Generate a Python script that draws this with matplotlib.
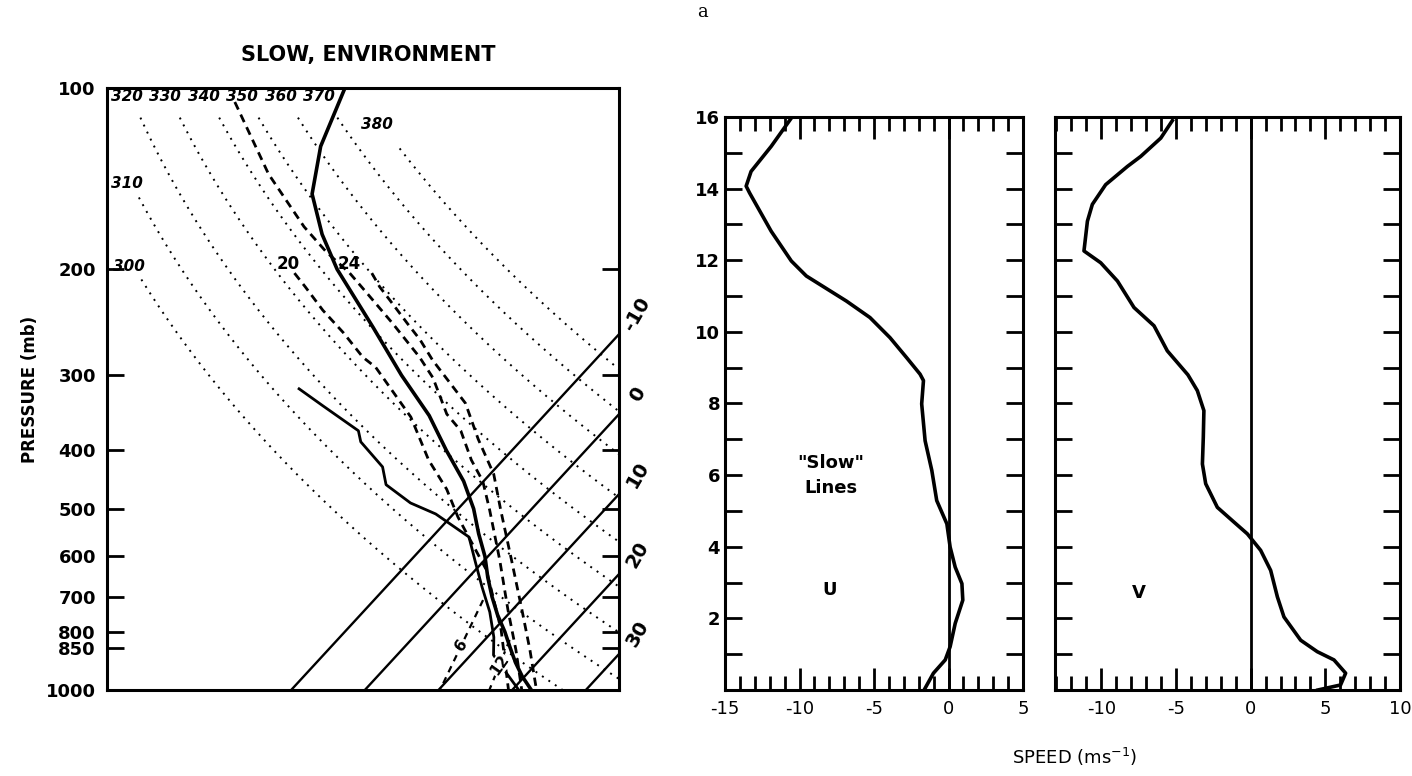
import numpy as np
import matplotlib
matplotlib.use("Agg")
from matplotlib import pyplot as plt

# ---- sounding (skew T - log p), temperatures in C, pressure in mb
env_p = [100, 125, 150, 175, 200, 250, 300, 350, 400, 450, 500, 550, 600, 650, 700, 750, 800, 850, 900, 950, 1000]
env_t = [-78.0, -74.0, -69.2, -62.8, -56.4, -44.2, -34.4, -25.6, -18.9, -12.7, -7.9, -4.1, -0.4, 2.6, 5.6, 8.6, 11.7, 14.4, 17.0, 19.7, 22.6]

dew_p = [316, 337, 371, 387, 426, 456, 489, 510, 557, 613, 674, 742, 817, 875, 923, 1000]
dew_t = [-46.6, -41.3, -33.3, -31.6, -25.5, -22.8, -17.2, -12.4, -5.0, -1.0, 3.0, 7.2, 10.9, 13.1, 16.2, 20.9]

# moist adiabats (dashed)
moistA_p = [105.5, 139, 170, 187, 203, 219, 246, 280, 303, 348, 371, 415, 450, 502, 609, 736, 858, 1000]
moistA_t = [-91.2, -77.6, -66.2, -60.1, -54.2, -49.4, -42.1, -34.2, -29.8, -23.4, -19.4, -14.3, -10.1, -5.6, 2.1, 9.4, 15.5, 21.3]
moist20_p = [203, 214, 234, 255, 280, 291, 352, 415, 464, 516, 632, 795, 1000]
moist20_t = [-61.7, -58.5, -53.2, -47.6, -41.9, -38.9, -27.9, -20.1, -14.0, -9.0, 1.5, 11.0, 19.5]
moist24_p = [203, 214, 225, 246, 262, 283, 334, 383, 438, 502, 609, 736, 858, 1000]
moist24_t = [-51.2, -48.4, -45.4, -40.1, -36.3, -32.1, -22.2, -16.0, -9.5, -4.1, 3.7, 11.3, 17.4, 23.3]

# short dashed lines near the ground
mix6_p = [709, 1000]
mix6_t = [4.8, 10.2]
mix12_p = [826, 1000]
mix12_t = [13.4, 16.9]

# reference lines
isotherms = [-10, 0, 10, 20, 30]
thetas = [300, 310, 320, 330, 340, 350, 360, 370, 380]
theta_start = [208, 152, 112, 112, 112, 112, 112, 112, 126]
theta_lab_p = [198, 144, 103.5, 103.5, 103.5, 103.5, 103.5, 103.5, 115]
p_ticks = [100, 200, 300, 400, 500, 600, 700, 800, 850, 1000]

# ---- wind profiles, height km, speed m/s
u_z = [0.05, 0.47, 0.84, 1.21, 1.86, 2.51, 2.97, 3.43, 3.99, 4.64, 5.29, 6.13, 6.96, 7.99, 8.64, 8.82, 9.28, 9.84, 10.40, 10.86, 11.56, 11.98, 12.81, 13.88, 14.07, 14.48, 15.18, 15.97]
u_val = [-1.57, -1.01, -0.22, 0.11, 0.45, 0.96, 0.90, 0.45, 0.11, -0.11, -0.79, -1.12, -1.57, -1.80, -1.68, -1.91, -2.81, -3.93, -5.27, -6.85, -9.54, -10.55, -11.90, -13.35, -13.58, -13.25, -11.90, -10.55]
v_z = [0.0, 0.14, 0.47, 0.84, 1.07, 1.39, 2.04, 2.60, 3.34, 3.90, 4.36, 4.69, 5.10, 5.76, 6.31, 7.06, 7.80, 8.36, 8.80, 9.47, 10.17, 10.68, 11.42, 11.93, 12.26, 13.09, 13.56, 14.11, 14.62, 14.90, 15.41, 15.90]
v_val = [4.5, 6.02, 6.36, 5.58, 4.46, 3.35, 2.23, 1.79, 1.34, 0.67, -0.22, -1.12, -2.23, -3.01, -3.23, -3.17, -3.13, -3.57, -4.2, -5.58, -6.47, -7.81, -8.92, -10.04, -11.16, -10.93, -10.60, -9.71, -8.25, -7.36, -6.02, -5.24]

SKEW = 75.3


def skew(t, p):
    return np.asarray(t, float) + SKEW * np.log10(1000.0 / np.asarray(p, float))


def theta_t(theta, p):
    return theta * (np.asarray(p, float) / 1000.0) ** 0.286 - 273.15


bold = dict(fontweight="bold", family="DejaVu Sans")
white = dict(facecolor="white", edgecolor="none", pad=0.5)

fig = plt.figure(figsize=(14.12, 7.76), dpi=100)

# ================= skew T panel
ax = fig.add_axes([107 / 1412, 1 - 690 / 776, 512 / 1412, 602 / 776])
ax.set_yscale("log")
ax.set_ylim(1000, 100)
ax.set_xlim(-35, 34.5)

pp = np.geomspace(1000, 100, 200)
for t in isotherms:
    ax.plot(skew(t, pp), pp, color="black", lw=1.7)

for th, p0, pl in zip(thetas, theta_start, theta_lab_p):
    pq = np.geomspace(p0, 1000, 200)
    ax.plot(skew(theta_t(th, pq), pq), pq, color="black", lw=1.4, linestyle=(0, (1, 3)))
    ax.text(skew(theta_t(th, pl), pl) - 0.6, pl, str(th), ha="center", va="center",
            fontsize=11, fontstyle="italic", fontweight="bold")

ax.plot(skew(env_t, env_p), env_p, color="black", lw=2.6)
ax.plot(skew(dew_t, dew_p), dew_p, color="black", lw=2.0)
for tt, pv in [(moistA_t, moistA_p), (moist20_t, moist20_p), (moist24_t, moist24_p)]:
    ax.plot(skew(tt, pv), pv, color="black", lw=2.0, linestyle=(0, (3, 2)))
for tt, pv, lab in [(mix6_t, mix6_p, "6"), (mix12_t, mix12_p, "12")]:
    xs = skew(tt, pv)
    ax.plot(xs, pv, color="black", lw=1.6, linestyle=(0, (3, 2.5)))
    ax.text(xs.mean(), np.sqrt(pv[0] * pv[1]), lab, ha="center", va="center", fontsize=11,
            rotation=55, bbox=white, **bold)

ax.text(skew(moist20_t[0], moist20_p[0]) - 0.8, moist20_p[0] * 0.965, "20", ha="center", va="center", fontsize=12, **bold)
ax.text(skew(moist24_t[0], moist24_p[0]) - 3.0, moist24_p[0] * 0.965, "24", ha="center", va="center", fontsize=12, **bold)

# isotherm labels on the right side
xr = 37.0
for t in isotherms:
    pl = 1000.0 * 10 ** (-(xr - t) / SKEW)
    ax.text(xr, pl, str(t), ha="center", va="center", fontsize=14, rotation=60,
            clip_on=False, **bold)

ax.set_yticks(p_ticks)
ax.set_yticklabels([str(p) for p in p_ticks])
ax.minorticks_off()
ax.set_xticks([])
ax.tick_params(axis="y", direction="in", length=12, width=2, right=True, labelsize=13, pad=8)
for lab in ax.get_yticklabels():
    lab.set_fontweight("bold")
for s in ax.spines.values():
    s.set_linewidth(2.2)
ax.set_ylabel("PRESSURE (mb)", fontsize=12, fontweight="bold", labelpad=5)
fig.text(368 / 1412, 1 - 55 / 776, "SLOW, ENVIRONMENT", ha="center", va="center", fontsize=15, fontweight="bold")


# ================= wind panels
def wind_axes(rect, xlim, xt):
    a = fig.add_axes(rect)
    a.set_xlim(*xlim)
    a.set_ylim(0, 16)
    a.set_xticks(xt)
    a.set_xticks(np.arange(np.ceil(xlim[0]), xlim[1] + 0.01, 1), minor=True)
    a.set_yticks(np.arange(0, 17, 1), minor=True)
    a.set_yticks(np.arange(2, 17, 2))
    a.tick_params(which="both", direction="in", top=True, right=True, width=2)
    a.tick_params(axis="x", which="major", length=16, labelsize=13, pad=7)
    a.tick_params(axis="x", which="minor", length=10)
    a.tick_params(axis="y", which="both", length=12, labelsize=13)
    a.axvline(0, color="black", lw=2.0)
    for s in a.spines.values():
        s.set_linewidth(2.2)
    return a


axu = wind_axes([725 / 1412, 1 - 690 / 776, 298 / 1412, 573 / 776], (-15, 5), [-15, -10, -5, 0, 5])
axu.plot(u_val, u_z, color="black", lw=2.6)
axu.set_yticklabels([str(v) for v in range(2, 17, 2)], fontweight="bold")
axu.set_xticklabels(["-15", "-10", "-5", "0", "5"])
axu.text(-7.9, 6.0, "\"Slow\"\nLines", ha="center", va="center", fontsize=13, fontweight="bold", linespacing=1.5)
axu.text(-8.0, 2.8, "U", ha="center", va="center", fontsize=13, fontweight="bold")

axv = wind_axes([1055 / 1412, 1 - 690 / 776, 345 / 1412, 573 / 776], (-13.1, 10), [-10, -5, 0, 5, 10])
axv.plot(v_val, v_z, color="black", lw=2.6)
axv.set_yticklabels([])
axv.set_xticklabels(["-10", "-5", "0", "5", "10"])
axv.text(-7.5, 2.7, "V", ha="center", va="center", fontsize=13, fontweight="bold")

fig.text(1075 / 1412, 1 - 757 / 776, "SPEED (ms$^{-1}$)", ha="center", va="center", fontsize=13)
fig.text(703 / 1412, 1 - 12 / 776, "a", ha="center", va="center", fontsize=13, family="DejaVu Serif")

fig.savefig("out.png", dpi=100)
